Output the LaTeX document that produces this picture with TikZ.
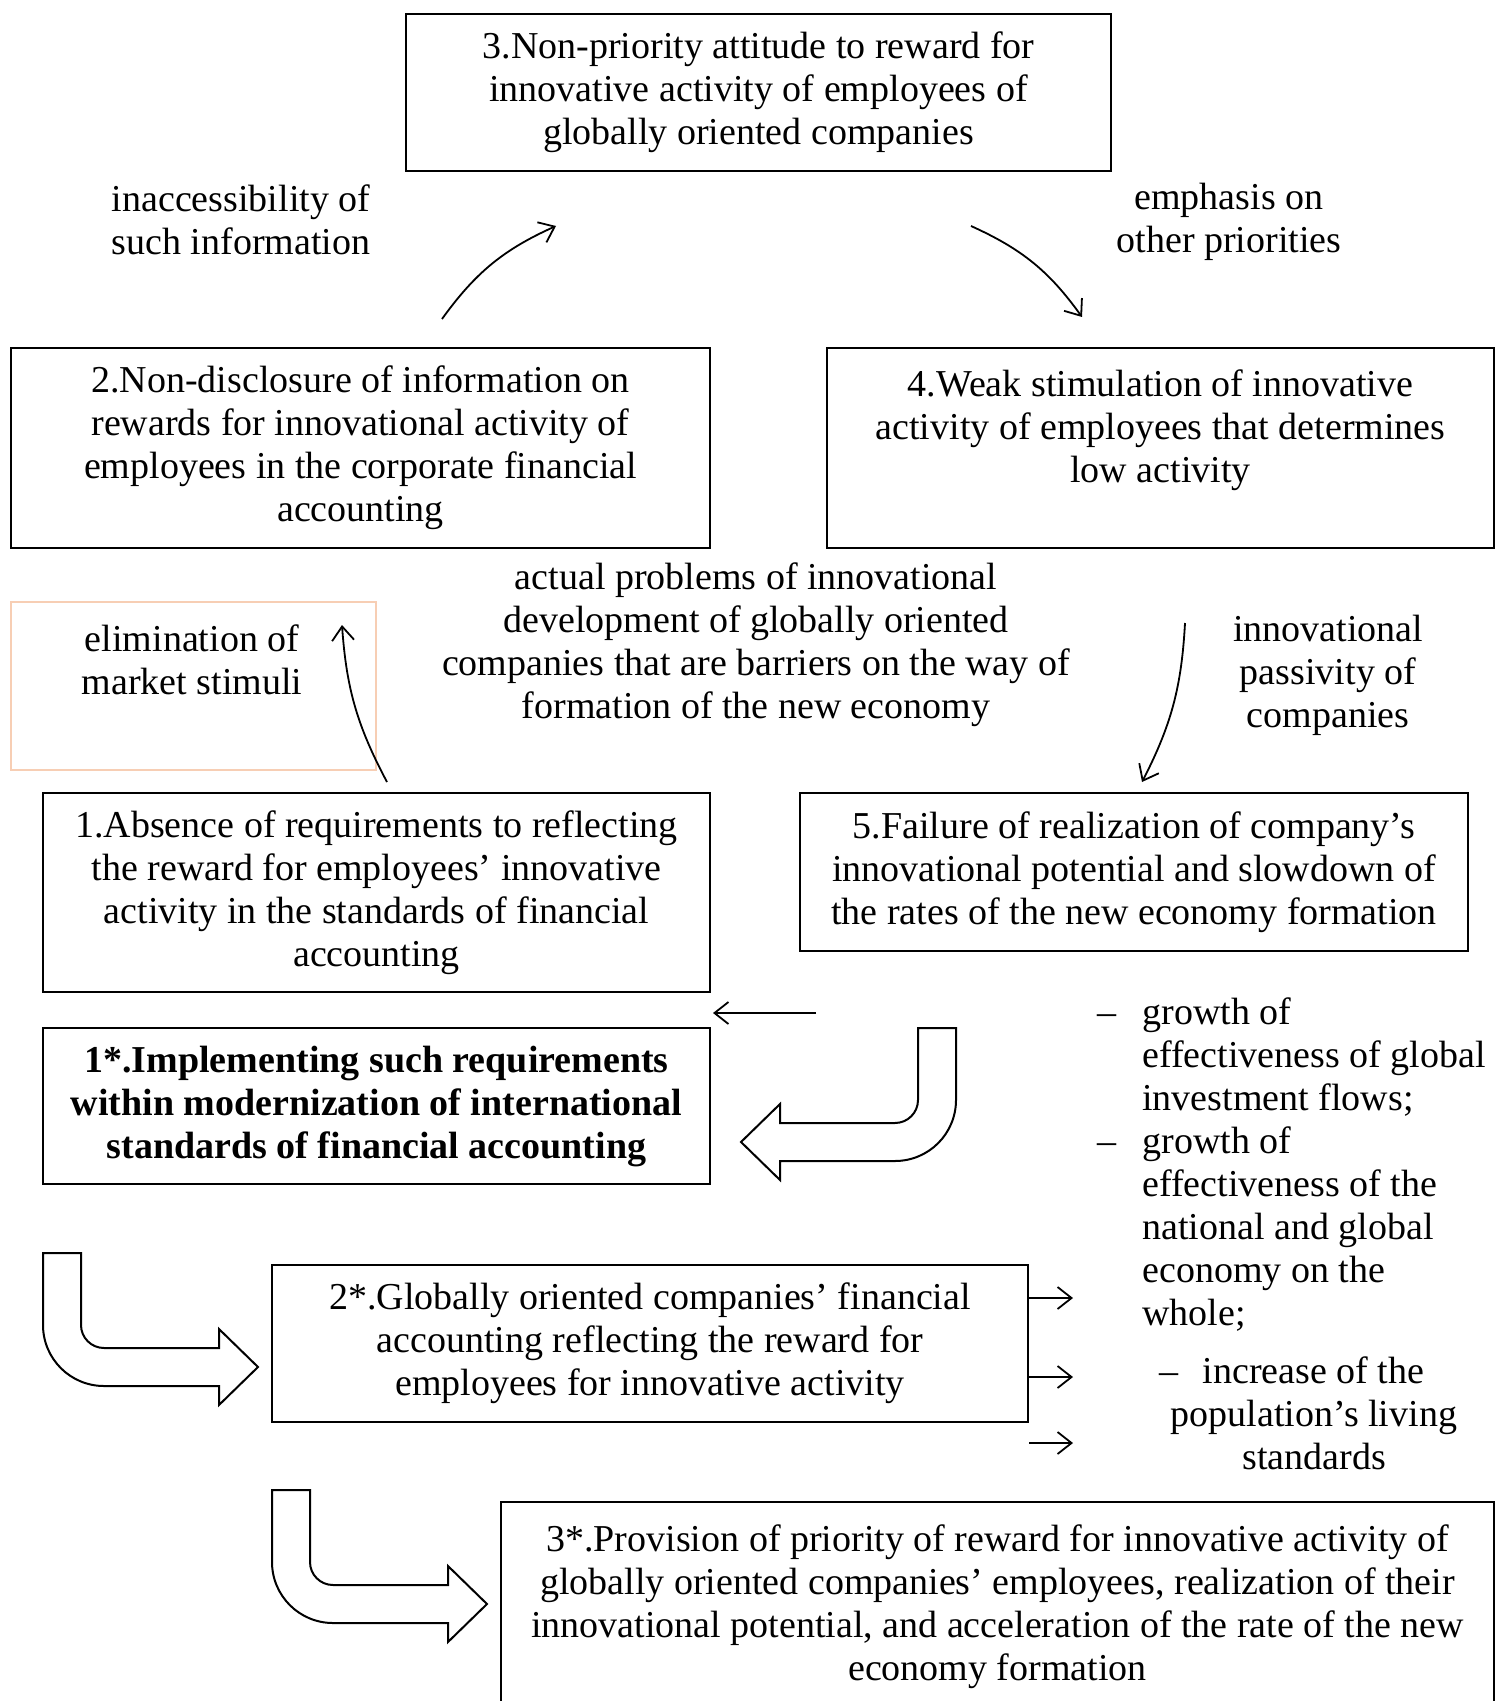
\documentclass[tikz,border=0pt]{standalone}
\usepackage{fontspec}
\setmainfont{Liberation Serif}
\usepackage{tikz}
\usetikzlibrary{positioning, arrows.meta}
\tikzstyle{canvas} = [x = 0.5pt, y = -0.5pt, every node/.style={font=\diagramFont}]
\definecolor{frameOrange}{RGB}{247,206,180}
\tikzstyle{boxStyle} = [draw, line width=1pt, align=center, inner sep=0pt]
\tikzstyle{orangeFrame} = [draw=frameOrange, line width=0.8pt, inner sep=0pt]
\tikzstyle{labelText} = [align=center, inner sep=0pt]
\tikzstyle{thinArrow} = [-{Straight Barb[length=7pt, width=11pt]}, line width=0.9pt]
\tikzstyle{hollowArrowStyle} = [draw, fill=white, line width=1pt, line join=miter]
\newcommand{\diagramFont}{\fontsize{19}{21.5}\selectfont}
\newcommand{\hollowArrow}[3]{\filldraw [hollowArrowStyle, shift={(#2,#3)}, #1] (0,0) -- (38,0) -- (38,72) .. controls (38,84.7) and (48.3,95) .. (61,95) -- (176,95) -- (176,76) -- (215,114) -- (176,152) -- (176,133) -- (61,133) .. controls (27.3,133) and (0,105.7) .. (0,72) -- cycle;}

\begin{document}
\begin{tikzpicture}[canvas]
          \path [use as bounding box, fill=white] (0,0) rectangle (1501,1701);

          \node [boxStyle, minimum width=352.5pt, minimum height=78.5pt] (box3) at (758.5,92.5)
            {3.Non-priority attitude to reward for\\innovative activity of employees of\\globally oriented companies};
          \node [boxStyle, minimum width=349.5pt, minimum height=100pt] (box2) at (360.5,448)
            {2.Non-disclosure of information on\\rewards for innovational activity of\\employees in the corporate financial\\accounting};
          \node [boxStyle, minimum width=333.5pt, minimum height=100pt] (box4) at (1160.5,448)
            {4.Weak stimulation of innovative\\activity of employees that determines\\low activity\\\mbox{}};
          \node [orangeFrame, minimum width=182.5pt, minimum height=84pt] (elimBox) at (193.5,686) {};
          \node [boxStyle, minimum width=333.5pt, minimum height=99.5pt] (box1) at (376.5,892.5)
            {1.Absence of requirements to reflecting\\the reward for employees’ innovative\\activity in the standards of financial\\accounting};
          \node [boxStyle, minimum width=334pt, minimum height=79pt] (box5) at (1134,872)
            {5.Failure of realization of company’s\\innovational potential and slowdown of\\the rates of the new economy formation};
          \node [boxStyle, minimum width=333.5pt, minimum height=78pt, font=\diagramFont\bfseries] (box1s) at (376.5,1106)
            {1*.Implementing such requirements\\within modernization of international\\standards of financial accounting};
          \node [boxStyle, minimum width=378pt, minimum height=78.5pt] (box2s) at (650,1343.5)
            {2*.Globally oriented companies’ financial\\accounting reflecting the reward for\\employees for innovative activity};
          \node [boxStyle, minimum width=496.5pt, minimum height=105pt] (box3s) at (997.5,1607)
            {3*.Provision of priority of reward for innovative activity of\\globally oriented companies’ employees, realization of their\\innovational potential, and acceleration of the rate of the new\\economy formation};

          \node [labelText] (inaccLabel) at (241,219.5) {inaccessibility of\\such information};
          \node [labelText] (emphLabel) at (1229,221.5) {emphasis on\\other priorities};
          \node [labelText] (problemsLabel) at (756,645) {actual problems of innovational\\development of globally oriented\\companies that are barriers on the way of\\formation of the new economy};
          \node [labelText] (passLabel) at (1328,675) {innovational\\passivity of\\companies};
          \node [labelText] (elimLabel) at (192,659.5) {elimination of\\market stimuli};
          \node [labelText, anchor=west] (resultsList) at (1097,1166.5)
            {\begin{tabular}{@{}l@{\hspace{13pt}}l@{}}
              – & growth of\\ & effectiveness of global\\ & investment flows;\\
              – & growth of\\ & effectiveness of the\\ & national and global\\ & economy on the\\ & whole;
            \end{tabular}};
          \node [labelText] (livingLabel) at (1314,1413.5) {–\hspace{12pt}increase of the\hspace*{22pt}\null\\population’s living\\standards};

          \coordinate (inaccStart) at (442,319);
          \coordinate (inaccEnd) at (556,226);
          \coordinate (emphStart) at (971,226);
          \coordinate (emphEnd) at (1082,317);
          \coordinate (elimStart) at (387,782);
          \coordinate (elimEnd) at (342,625);
          \coordinate (passStart) at (1185,623);
          \coordinate (passEnd) at (1142,782);
          \coordinate (backStart) at (816,1013);
          \coordinate (backEnd) at (713,1013);
          \coordinate (resOne) at (1073,1298);
          \coordinate (resTwo) at (1073,1377);
          \coordinate (resThree) at (1073,1443);

          \draw [thinArrow] (inaccStart) to [bend left=15] (inaccEnd);
          \draw [thinArrow] (emphStart) to [bend left=15] (emphEnd);
          \draw [thinArrow] (elimStart) to [bend left=12] (elimEnd);
          \draw [thinArrow] (passStart) to [bend left=12] (passEnd);
          \draw [thinArrow] (backStart) -- (backEnd);
          \draw [thinArrow] (box2s.east |- resOne) -- (resOne);
          \draw [thinArrow] (box2s.east |- resTwo) -- (resTwo);
          \draw [thinArrow] (box2s.east |- resThree) -- (resThree);

          \hollowArrow{xscale=-1}{956}{1028}
          \hollowArrow{}{43}{1253}
          \hollowArrow{}{272}{1490}
        \end{tikzpicture}
\end{document}
